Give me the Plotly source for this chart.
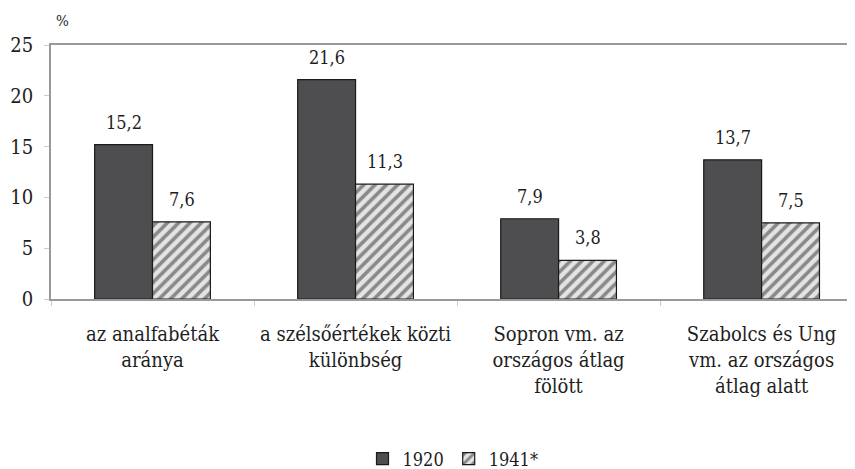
import plotly.graph_objects as go

categories = ["az analfabéták<br>aránya",
              "a szélsőértékek közti<br>különbség",
              "Sopron vm. az<br>országos átlag<br>fölött",
              "Szabolcs és Ung<br>vm. az országos<br>átlag alatt"]
series_names = ["1920", "1941*"]
values_1920 = [15.2, 21.6, 7.9, 13.7]
values_1941 = [7.6, 11.3, 3.8, 7.5]
y_ticks = [0, 5, 10, 15, 20, 25]

FONT = "DejaVu Serif Condensed, DejaVu Serif, serif"
TXT = "#1e1e1e"
fig = go.Figure()
fig.add_trace(go.Bar(
    x=categories, y=values_1920, name=series_names[0],
    marker=dict(color="#4e4e51", line=dict(color="#1a1a1a", width=1.2)),
))
fig.add_trace(go.Bar(
    x=categories, y=values_1941, name=series_names[1],
    marker=dict(color="#e4e4e4", line=dict(color="#1a1a1a", width=1.2),
                pattern=dict(shape="/", fgcolor="#2e2e2e", bgcolor="#e4e4e4",
                             size=8, solidity=0.45)),
))

bar_px = 58
annotations = []
for i, cat in enumerate(categories):
    for vals, shift in ((values_1920, -bar_px / 2), (values_1941, bar_px / 2)):
        annotations.append(dict(
            x=cat, y=vals[i], xref="x", yref="y", text=f"{vals[i]:.1f}".replace(".", ","),
            showarrow=False, xshift=shift, yshift=10, yanchor="bottom",
            font=dict(family=FONT, size=18, color=TXT),
        ))
annotations.append(dict(x=0.0, y=1.0, xref="paper", yref="paper", text="%",
                        showarrow=False, xshift=11, yshift=24, xanchor="center",
                        yanchor="middle", font=dict(family=FONT, size=15, color=TXT)))

fig.update_layout(
    width=847, height=461,
    margin=dict(l=43, r=0, t=37, b=170, autoexpand=False),
    paper_bgcolor="white", plot_bgcolor="white",
    barmode="group", bargap=0.43, bargroupgap=0,
    font=dict(family=FONT, size=18, color=TXT),
    showlegend=True,
    legend=dict(orientation="h", x=0.5, xanchor="center", y=-0.63, yanchor="middle",
                font=dict(family=FONT, size=18, color=TXT),
                itemwidth=30, traceorder="normal"),
    annotations=annotations,
)
fig.update_xaxes(
    type="category", range=[-0.5, 3.46],
    showline=True, linecolor="#999", linewidth=1.5, mirror=True,
    tickson="boundaries", ticks="outside", ticklen=5, tickcolor="#ccc",
    ticklabelstandoff=16, tickangle=0,
    showgrid=False, tickfont=dict(family=FONT, size=20, color=TXT),
)
fig.update_yaxes(
    range=[0, 25], tickvals=y_ticks, ticks="outside", ticklen=5, tickcolor="#ccc",
    ticklabelstandoff=7,
    showline=True, linecolor="#999", linewidth=1.5, showgrid=False, zeroline=False,
    tickfont=dict(family=FONT, size=20, color=TXT),
)
fig.write_html("out.html")
